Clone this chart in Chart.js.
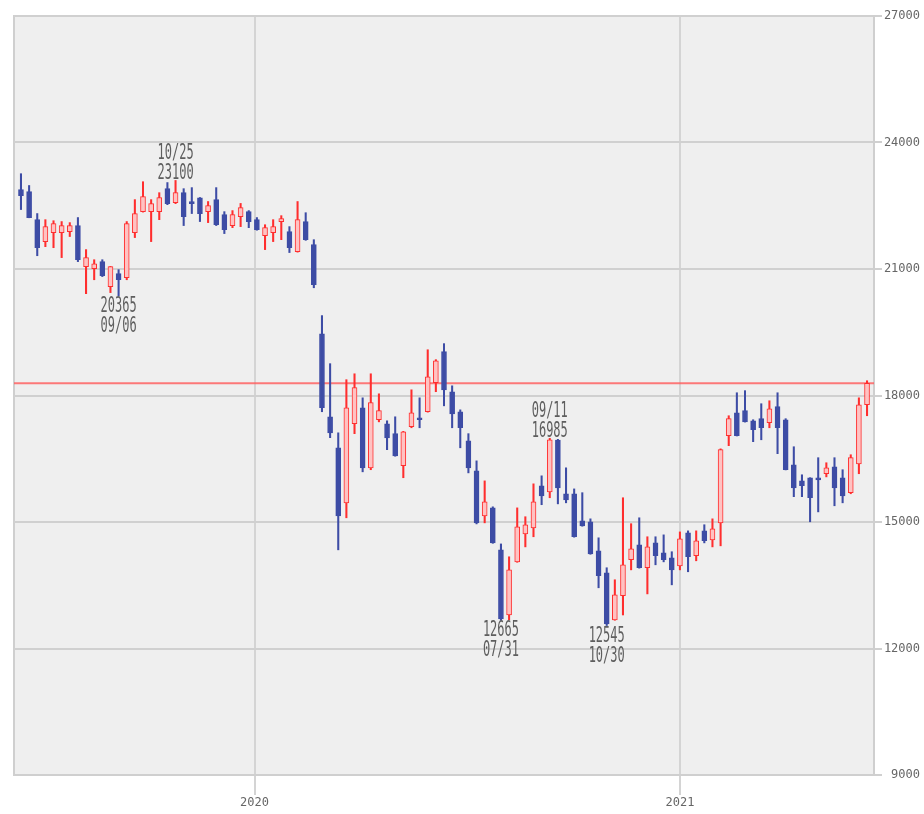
<!DOCTYPE html>
<html>
<head>
<meta charset="utf-8">
<script src="https://cdn.jsdelivr.net/npm/chart.js@4.4.1/dist/chart.umd.min.js"></script>
<style>
html,body{margin:0;padding:0;background:#fff;}
#wrap{width:924px;height:814px;}
</style>
</head>
<body>
<div id="wrap"><canvas id="c" width="924" height="814"></canvas></div>
<script>
// ---- DATA (weekly candles, week ending Fridays) ----
const firstWeek = '2019-06-14';
const openV  = [22885,22835,22170,21650,21860,21860,21885,22030,21055,21010,21175,20580,20890,20795,21860,22360,22360,22360,22905,22575,
                22810,22600,22690,22360,22645,22290,22030,22240,22360,22170,21790,21860,22125,21885,21410,22125,21580,19465,17495,16760,
                15455,17330,17710,16285,17425,17330,17095,16335,17260,17470,17615,18305,19040,18090,17615,16925,16215,15145,15335,14340,
                12795,14055,14720,14860,15860,15715,16940,15670,15670,15030,15005,14315,13795,12680,13250,14105,14460,13915,14505,14270,
                14150,13960,14745,14200,14790,14575,14980,17045,17590,17640,17400,17450,17355,17735,17425,16355,15975,16045,16050,16145,
                16310,16050,15695,16380,17780];
const highV  = [23260,22980,22315,22170,22145,22125,22100,22220,21460,21220,21220,21060,20985,22125,22645,23070,22645,22810,23050,23100,
                22905,22930,22695,22600,22930,22360,22385,22555,22385,22220,22050,22170,22265,22005,22600,22335,21695,19895,18755,17115,
                18375,18515,17945,18515,18040,17400,17495,17150,18135,17945,19085,18850,19230,18230,17660,17095,16450,15975,15360,14480,
                14175,15335,15125,15905,16095,16985,16960,16285,15785,15695,15075,14625,13915,13630,15575,14960,15100,14650,14650,14695,
                14295,14765,14790,14790,14935,15075,16735,17520,18065,18115,17425,17805,17875,18065,17450,16785,16120,16050,16525,16405,
                16525,16240,16595,17945,18350];
const lowV   = [22410,22215,21315,21530,21505,21270,21770,21175,20415,20745,20820,20440,20365,20745,21745,22350,21650,22170,22525,22550,
                22030,22315,22125,22100,22030,21840,21980,22005,21980,21920,21460,21650,21695,21390,21400,21680,20555,17615,17000,14340,
                15100,17095,16190,16240,17375,16715,16560,16050,17235,17235,17605,18090,17755,17235,16760,16165,14955,14980,14495,12665,
                12680,14045,14410,14650,15410,15575,15430,15455,14640,14900,14235,13440,12545,12670,12795,13865,13905,13295,13985,14055,
                13510,13865,13820,14080,14505,14410,14435,16810,17040,17370,16905,16950,17235,16620,16235,15600,15600,15005,15240,16070,
                15385,15455,15670,16145,17520];
const closeV = [22740,22220,21505,22005,22075,22030,22030,21220,21270,21125,20840,21055,20745,22075,22315,22715,22550,22695,22550,22810,
                22240,22550,22315,22505,22050,21935,22290,22455,22125,21935,21980,22005,22195,21505,22170,21695,20630,17710,17115,15145,
                17710,18185,16285,17830,17640,16995,16570,17140,17590,17425,18445,18825,18135,17565,17235,16285,14980,15480,14505,12700,
                13865,14885,14935,15480,15620,16950,15810,15525,14650,14910,14245,13725,12580,13270,13985,14365,13915,14410,14200,14105,
                13865,14600,14175,14555,14555,14840,16715,17450,17045,17375,17190,17235,17685,17235,16240,15810,15860,15575,16000,16285,
                15810,15620,16525,17780,18290];
const yTickValues = [9000,12000,15000,18000,21000,24000,27000];
const xTickDates  = ['2020-01-01','2021-01-01'];
const xTickLabels = ['2020','2021'];
// marked extremes: candle index, date label
const markIdx   = [12, 19, 59, 65, 72];
const markType  = ['low','high','low','high','low'];
const markDate  = ['09/06','10/25','07/31','09/11','10/30'];

// ---- helpers ----
function dayNum(s){const p=s.split('-').map(Number);return Date.UTC(p[0],p[1]-1,p[2])/86400000;}
const d0 = dayNum(firstWeek);
const days = openV.map((_,i)=>d0+7*i);
const xTickDays = xTickDates.map(dayNum);
const xMin = days[0]-6, xMax = days[days.length-1]+6;

const BLUE='#3d4ca5', RED='#ff2e2e', PINK='#ffc2c2';
const up = closeV.map((c,i)=>c>=openV[i]);
const lastClose = closeV[closeV.length-1];

const bgPlugin = {
  id:'bg',
  beforeDraw(chart){
    const {ctx, chartArea:a} = chart;
    ctx.save();
    ctx.fillStyle='#efefef';
    ctx.fillRect(a.left,a.top,a.right-a.left,a.bottom-a.top);
    ctx.strokeStyle='#cfcfcf'; ctx.lineWidth=2;
    ctx.beginPath();
    ctx.moveTo(a.left,a.bottom); ctx.lineTo(a.left,a.top); ctx.lineTo(a.right,a.top);
    ctx.stroke();
    ctx.restore();
  }
};
const markPlugin = {
  id:'marks',
  afterDatasetsDraw(chart){
    const {ctx, scales:{x,y}} = chart;
    ctx.save();
    ctx.font='12px "DejaVu Sans Mono", monospace';
    ctx.fillStyle='#5e5e5e';
    ctx.textAlign='center';
    ctx.textBaseline='alphabetic';
    const put=(t,px,py)=>{ctx.save();ctx.translate(px,py);ctx.scale(1,1.7);ctx.fillText(t,0,0);ctx.restore();};
    markIdx.forEach((idx,k)=>{
      const px = x.getPixelForValue(days[idx]);
      if(markType[k]==='high'){
        const v=highV[idx], py=y.getPixelForValue(v);
        put(String(v),px,py-1);
        put(markDate[k],px,py-21);
      } else {
        const v=lowV[idx], py=y.getPixelForValue(v);
        put(String(v),px,py+16);
        put(markDate[k],px,py+36);
      }
    });
    ctx.restore();
  }
};

new Chart(document.getElementById('c'),{
  type:'bar',
  data:{
    datasets:[
      {
        type:'line',
        data:[{x:xMin,y:lastClose},{x:xMax,y:lastClose}],
        borderColor:'rgba(255,90,90,0.8)',
        borderWidth:2,
        pointRadius:0,
        order:3
      },
      {
        label:'wick',
        data:days.map((d,i)=>({x:d,y:[lowV[i],highV[i]]})),
        backgroundColor:up.map(u=>u?RED:BLUE),
        borderWidth:0,
        barThickness:1.4,
        grouped:false,
        order:2
      },
      {
        label:'body',
        data:days.map((d,i)=>({x:d,y:[openV[i],closeV[i]]})),
        backgroundColor:up.map(u=>u?PINK:BLUE),
        borderColor:up.map(u=>u?RED:BLUE),
        borderWidth:1,
        borderSkipped:false,
        barThickness:5,
        minBarLength:2,
        grouped:false,
        order:1
      }
    ]
  },
  options:{
    responsive:false,
    animation:false,
    devicePixelRatio:1,
    layout:{padding:{left:14,top:16,right:4,bottom:5}},
    plugins:{legend:{display:false},tooltip:{enabled:false}},
    scales:{
      x:{
        type:'linear',
        min:xMin, max:xMax,
        offset:false,
        afterBuildTicks(s){s.ticks=xTickDays.map(v=>({value:v}));},
        afterFit(s){s.height=34;},
        ticks:{
          autoSkip:false, maxRotation:0, padding:1,
          color:'#666',
          font:{family:'"DejaVu Sans Mono", monospace',size:12},
          callback(v){const i=xTickDays.indexOf(v);return i>=0?xTickLabels[i]:'';}
        },
        grid:{offset:false,color:'#d4d4d4',lineWidth:2,tickLength:20,drawOnChartArea:true},
        border:{display:true,color:'#cfcfcf',width:2}
      },
      y:{
        type:'linear',
        position:'right',
        min:9000,max:27000,
        afterBuildTicks(s){s.ticks=yTickValues.map(v=>({value:v}));},
        afterFit(s){s.width=46;},
        ticks:{
          crossAlign:'far',
          color:'#666',
          font:{family:'"DejaVu Sans Mono", monospace',size:12},
          padding:3,
          callback(v){return String(v);}
        },
        grid:{color:'#d0d0d0',lineWidth:2,tickLength:8},
        border:{display:true,color:'#cfcfcf',width:2}
      }
    }
  },
  plugins:[bgPlugin,markPlugin]
});
</script>
</body>
</html>
